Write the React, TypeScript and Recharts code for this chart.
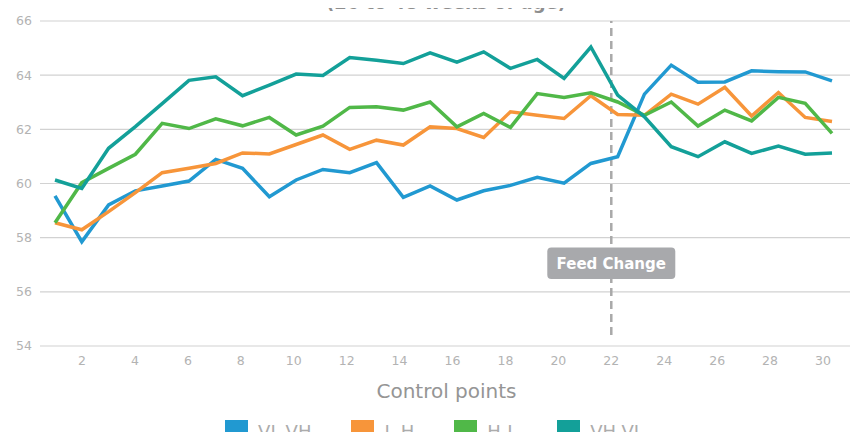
import React from "react";
import { LineChart, Line, XAxis, YAxis, CartesianGrid, ReferenceLine, Legend } from "recharts";

const points = [1, 2, 3, 4, 5, 6, 7, 8, 9, 10, 11, 12, 13, 14, 15, 16, 17, 18, 19, 20, 21, 22, 23, 24, 25, 26, 27, 28, 29, 30];

const vlVh = [59.54, 57.85, 59.21, 59.73, 59.91, 60.09, 60.89, 60.56, 59.51, 60.13, 60.52, 60.4, 60.77, 59.49, 59.91, 59.39, 59.73, 59.93, 60.23, 60.01, 60.74, 60.99, 63.3, 64.37, 63.74, 63.75, 64.16, 64.13, 64.12, 63.79];
const lH = [58.55, 58.29, 58.96, 59.66, 60.4, 60.56, 60.74, 61.13, 61.09, 61.44, 61.79, 61.26, 61.6, 61.42, 62.09, 62.03, 61.7, 62.65, 62.52, 62.4, 63.24, 62.55, 62.52, 63.3, 62.93, 63.55, 62.49, 63.36, 62.44, 62.29];
const hL = [58.55, 60.03, 60.56, 61.08, 62.22, 62.03, 62.39, 62.13, 62.44, 61.79, 62.12, 62.81, 62.83, 62.71, 63.01, 62.09, 62.59, 62.07, 63.32, 63.18, 63.35, 63.01, 62.52, 63.01, 62.12, 62.71, 62.31, 63.18, 62.96, 61.85];
const vhVl = [60.13, 59.82, 61.3, 62.1, 62.95, 63.81, 63.94, 63.24, 63.63, 64.04, 63.99, 64.65, 64.55, 64.43, 64.82, 64.48, 64.86, 64.25, 64.58, 63.88, 65.04, 63.26, 62.46, 61.36, 60.99, 61.54, 61.11, 61.38, 61.08, 61.13];

const seriesNames = ["VL-VH", "L-H", "H-L", "VH-VL"];
const seriesColors = ["#2199d1", "#f7953a", "#50b848", "#13a099"];
const seriesValues = [vlVh, lH, hL, vhVl];

const xTicks = [2, 4, 6, 8, 10, 12, 14, 16, 18, 20, 22, 24, 26, 28, 30];
const yTicks = [54, 56, 58, 60, 62, 64, 66];
const feedChangePoint = 22;

const data = points.map((p, i) => {
  const row: Record<string, number> = { point: p };
  seriesNames.forEach((name, s) => {
    row[name] = seriesValues[s][i];
  });
  return row;
});

const FONT = "'DejaVu Sans', 'Open Sans', sans-serif";

function FeedLabel(props: any) {
  const vb = props.viewBox || { x: 0, y: 0, height: 0 };
  const cx = vb.x;
  const top = vb.y + vb.height - 98.5;
  return (
    <g>
      <rect x={cx - 64} y={top} width={128} height={31.5} rx={4} fill="#a8a9ac" />
      <text x={cx} y={top + 16} textAnchor="middle" dominantBaseline="central" fill="#ffffff" fontSize={15} fontWeight={700}>
        Feed Change
      </text>
    </g>
  );
}

// keep legend in the series order rather than recharts' alphabetical sort
function LegendContent(props: any) {
  const payload = [...(props.payload || [])].sort(
    (a: any, b: any) => seriesNames.indexOf(a.value) - seriesNames.indexOf(b.value)
  );
  return (
    <div style={{ display: "flex", justifyContent: "center", paddingTop: 10, paddingLeft: 56 }}>
      {payload.map((item: any) => (
        <div key={item.value} style={{ display: "flex", alignItems: "flex-start", marginRight: 40 }}>
          <div style={{ width: 23, height: 23, background: item.color, marginRight: 10 }} />
          <span style={{ fontSize: 18, lineHeight: "23px", color: "#acacac" }}>{item.value}</span>
        </div>
      ))}
    </div>
  );
}

export default function App() {
  return (
    <div style={{ position: "relative", width: 858, height: 440, fontFamily: FONT, margin: -8, overflow: "hidden" }}>
      <LineChart width={858} height={440} data={data} margin={{ top: 21, right: 5, left: 0, bottom: 0 }}>
        <CartesianGrid vertical={false} stroke="#d2d2d2" strokeWidth={1.2} xAxisId="ticks" />
        <XAxis xAxisId="data" dataKey="point" type="number" domain={[1, 30]} padding={{ left: 15, right: 21 }} height={0} hide />
        <XAxis
          xAxisId="ticks"
          dataKey="point"
          type="number"
          domain={[2, 30]}
          allowDataOverflow
          ticks={xTicks}
          padding={{ left: 42, right: 30 }}
          height={64}
          axisLine={false}
          tickLine={false}
          tick={{ fill: "#b3b3b3", fontSize: 12.5, dy: 2 }}
          label={{ value: "Control points", position: "insideBottom", offset: 12, fill: "#959595", fontSize: 20 }}
        />
        <YAxis
          domain={[54, 66]}
          ticks={yTicks}
          width={40}
          axisLine={false}
          tickLine={false}
          tick={{ fill: "#b3b3b3", fontSize: 12.5 }}
        />
        <ReferenceLine
          xAxisId="ticks"
          x={feedChangePoint}
          stroke="#a9a9a9"
          strokeWidth={2.5}
          strokeDasharray="8 5"
          shape={(p: any) => (
            <line x1={p.x1} y1={p.y1 - 11} x2={p.x2} y2={p.y2} stroke="#a9a9a9" strokeWidth={2.5} strokeDasharray="8 5" />
          )}
          label={{ content: (p: any) => <FeedLabel viewBox={p.viewBox} /> }}
        />
        {seriesNames.map((name, s) => (
          <Line
            key={name}
            xAxisId="data"
            dataKey={name}
            stroke={seriesColors[s]}
            strokeWidth={3.5}
            dot={false}
            isAnimationActive={false}
          />
        ))}
        <Legend verticalAlign="bottom" height={30} content={<LegendContent />} />
      </LineChart>
      <svg width={858} height={20} style={{ position: "absolute", left: 0, top: 0, pointerEvents: "none" }}>
        <text x={446} y={8.5} textAnchor="middle" fill="#8e8e8e" fontSize={18} fontWeight={700}>
          (26 to 48 weeks of age)
        </text>
      </svg>
    </div>
  );
}
